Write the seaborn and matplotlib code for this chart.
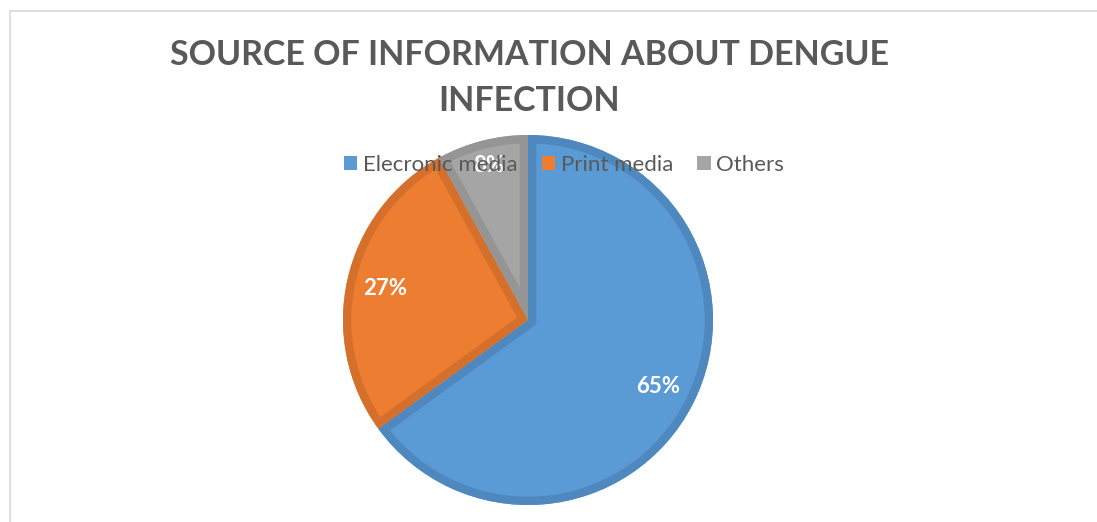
import numpy as np
import seaborn as sns
import matplotlib.pyplot as plt
from matplotlib.lines import Line2D
from matplotlib.patches import Patch, Wedge

sources = ["Elecronic media", "Print media", "Others"]
shares = [65, 27, 8]
fills = ["#5B9BD5", "#ED7D31", "#A5A5A5"]
edges = ["#4E88BF", "#D4702B", "#959595"]

sns.set_theme(style="white")
plt.rcParams['font.family'] = ['Lato', 'DejaVu Sans']

W, H = 1097, 522
fig = plt.figure(figsize=(W / 100, H / 100), dpi=100)

# pie: centre (528, 320) px, radius 185 px
cx, cy, r = 528, 320, 185
ax = fig.add_axes([(cx - r) / W, (H - cy - r) / H, 2 * r / W, 2 * r / H])
wedges, texts, autotexts = ax.pie(
    shares, colors=fills, startangle=90, counterclock=False,
    autopct=lambda p: f"{p:.0f}%", pctdistance=0.79,
    textprops=dict(color="white", fontsize=16, fontweight="bold"),
    wedgeprops=dict(linewidth=0))
# darker inner border on each slice, clipped to the slice itself
for w, ec in zip(wedges, edges):
    b = Wedge(w.center, w.r, w.theta1, w.theta2, facecolor="none",
              edgecolor=ec, linewidth=12, joinstyle="miter", zorder=w.get_zorder())
    ax.add_patch(b)
    b.set_clip_path(w)
for t in autotexts:
    t.set_zorder(5)
# small slice label sits further out (under the legend, as in the original)
autotexts[2].set_position(np.array(autotexts[2].get_position()) * 0.86 / 0.79)
ax.set_xlim(-1, 1)
ax.set_ylim(-1, 1)
ax.axis("off")

# title
fig.text(529 / W, 1 - 39 / H, "SOURCE OF INFORMATION ABOUT DENGUE\nINFECTION",
         ha="center", va="top", fontsize=24.5, fontweight="bold",
         color="#595959", linespacing=1.55)

# legend
handles = [Patch(facecolor=c, edgecolor="none") for c in fills]
fig.legend(handles, sources, loc="center", bbox_to_anchor=(564 / W, 1 - 165 / H),
           ncol=3, frameon=False, fontsize=16, labelcolor="#595959",
           handlelength=0.6, handleheight=0.6, handletextpad=0.25,
           columnspacing=1.1)

# chart area border (top and left visible)
fig.add_artist(Line2D([10 / W, 1.0], [1 - 11 / H, 1 - 11 / H], color="#D9D9D9", lw=1.2))
fig.add_artist(Line2D([10 / W, 10 / W], [0, 1 - 11 / H], color="#D9D9D9", lw=1.2))

fig.savefig("out.png", dpi=100)
